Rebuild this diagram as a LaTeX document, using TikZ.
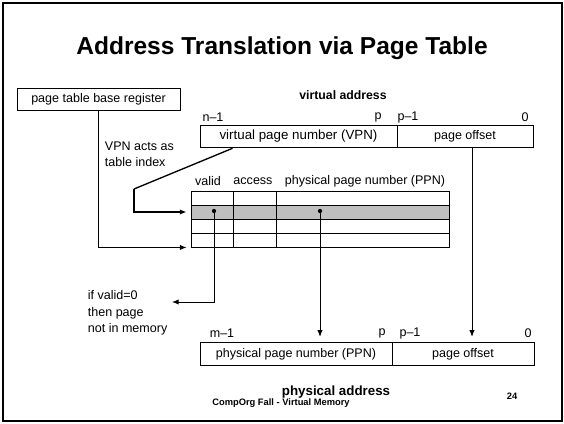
\documentclass[tikz,border=0pt]{standalone}
\usepackage{fontspec}
\setmainfont{Liberation Sans}
\usetikzlibrary{arrows.meta}

\begin{document}
\begin{tikzpicture}[x=0.75pt,y=-0.75pt,line width=0.7pt,
	font=\fontsize{9.4}{12}\selectfont,
	box/.style={draw,minimum height=17pt,inner sep=0pt},
	cell/.style={draw,minimum height=10.5pt,inner sep=0pt},
	>={Latex[length=5pt,width=4pt]}]
\useasboundingbox (0,0) rectangle (564,424);
\draw[line width=1.5pt] (3,3) rectangle (562,421);

\node (title) at (282,48)
	{\fontsize{18.4}{22}\selectfont\bfseries Address Translation via Page Table};

\node[box,minimum width=122.25pt] (ptbr) at (98.5,99.5)
	{page table base register};

% virtual address
\node (vaddr) at (343,95) {\fontsize{9.2}{11}\selectfont\bfseries virtual address};
\node[box,minimum width=147.75pt] (vpn) at (298.5,136.5)
	{\fontsize{10}{12}\selectfont virtual page number (VPN)};
\node[box,minimum width=102pt] (voff) at (465,136.5)
	{page offset};
\node (vhigh) at (213,117) {n--1};
\node (vp) at (378,117) {p};
\node (vpm) at (408,117) {p--1};
\node (vzero) at (525,117) {0};

\node[align=left,anchor=west] (vpnnote) at (100,154)
	{VPN acts as\\table index};

% page table
\node (colvalid) at (208,181) {valid};
\node (colaccess) at (253,181) {access};
\node (colppn) at (365,181) {physical page number (PPN)};
\fill[black!25] (191,205) rectangle (449,219);
\foreach \r/\y in {1/198,2/212,3/226,4/240}
	\foreach \c/\x/\w in {1/212/31.5pt,2/254.5/32.25pt,3/362.5/129.75pt}
		\node[cell,minimum width=\w] (cell-\r-\c) at (\x,\y) {};

\coordinate (validdot) at (214,211);
\coordinate (ppndot) at (320,211);
\fill (validdot) circle (1.6pt);
\fill (ppndot) circle (1.6pt);

\node[align=left,anchor=west,font=\fontsize{9.4}{12.4}\selectfont] (notmemnote) at (83,313)
	{if valid=0\\then page\\not in memory};
\coordinate (notmem) at (172,302);

% physical address
\node[box,minimum width=144pt] (ppn) at (296,354)
	{physical page number (PPN)};
\node[box,minimum width=106.5pt] (poff) at (463,354)
	{page offset};
\node (phigh) at (222,333) {m--1};
\node (pp) at (382,333) {p};
\node (ppm) at (410,333) {p--1};
\node (pzero) at (528,333) {0};
\node (paddr) at (336,392) {\fontsize{10}{12}\selectfont\bfseries physical address};

\node (footer) at (281,403)
	{\fontsize{7}{8}\selectfont\bfseries CompOrg Fall - Virtual Memory};
\node (pageno) at (512,396) {\fontsize{7}{8}\selectfont\bfseries 24};

\coordinate (bend) at (134,189);
\draw[->] (ptbr.south) |- ([xshift=-3pt]cell-4-1.south west);
\draw[line width=1pt] ([xshift=24.75pt]vpn.south west) -- (bend);
\draw[->,line width=1.6pt] (bend) |- ([xshift=-3pt]cell-2-1.west);
\draw[->] (validdot) |- (notmem);
\draw[->,shorten >=4pt] (ppndot) -- (ppndot |- ppn.north);
\draw[->,shorten >=4pt] ([xshift=5.25pt]voff.south) -- ([xshift=5.25pt]voff.south |- poff.north);
\end{tikzpicture}
\end{document}
